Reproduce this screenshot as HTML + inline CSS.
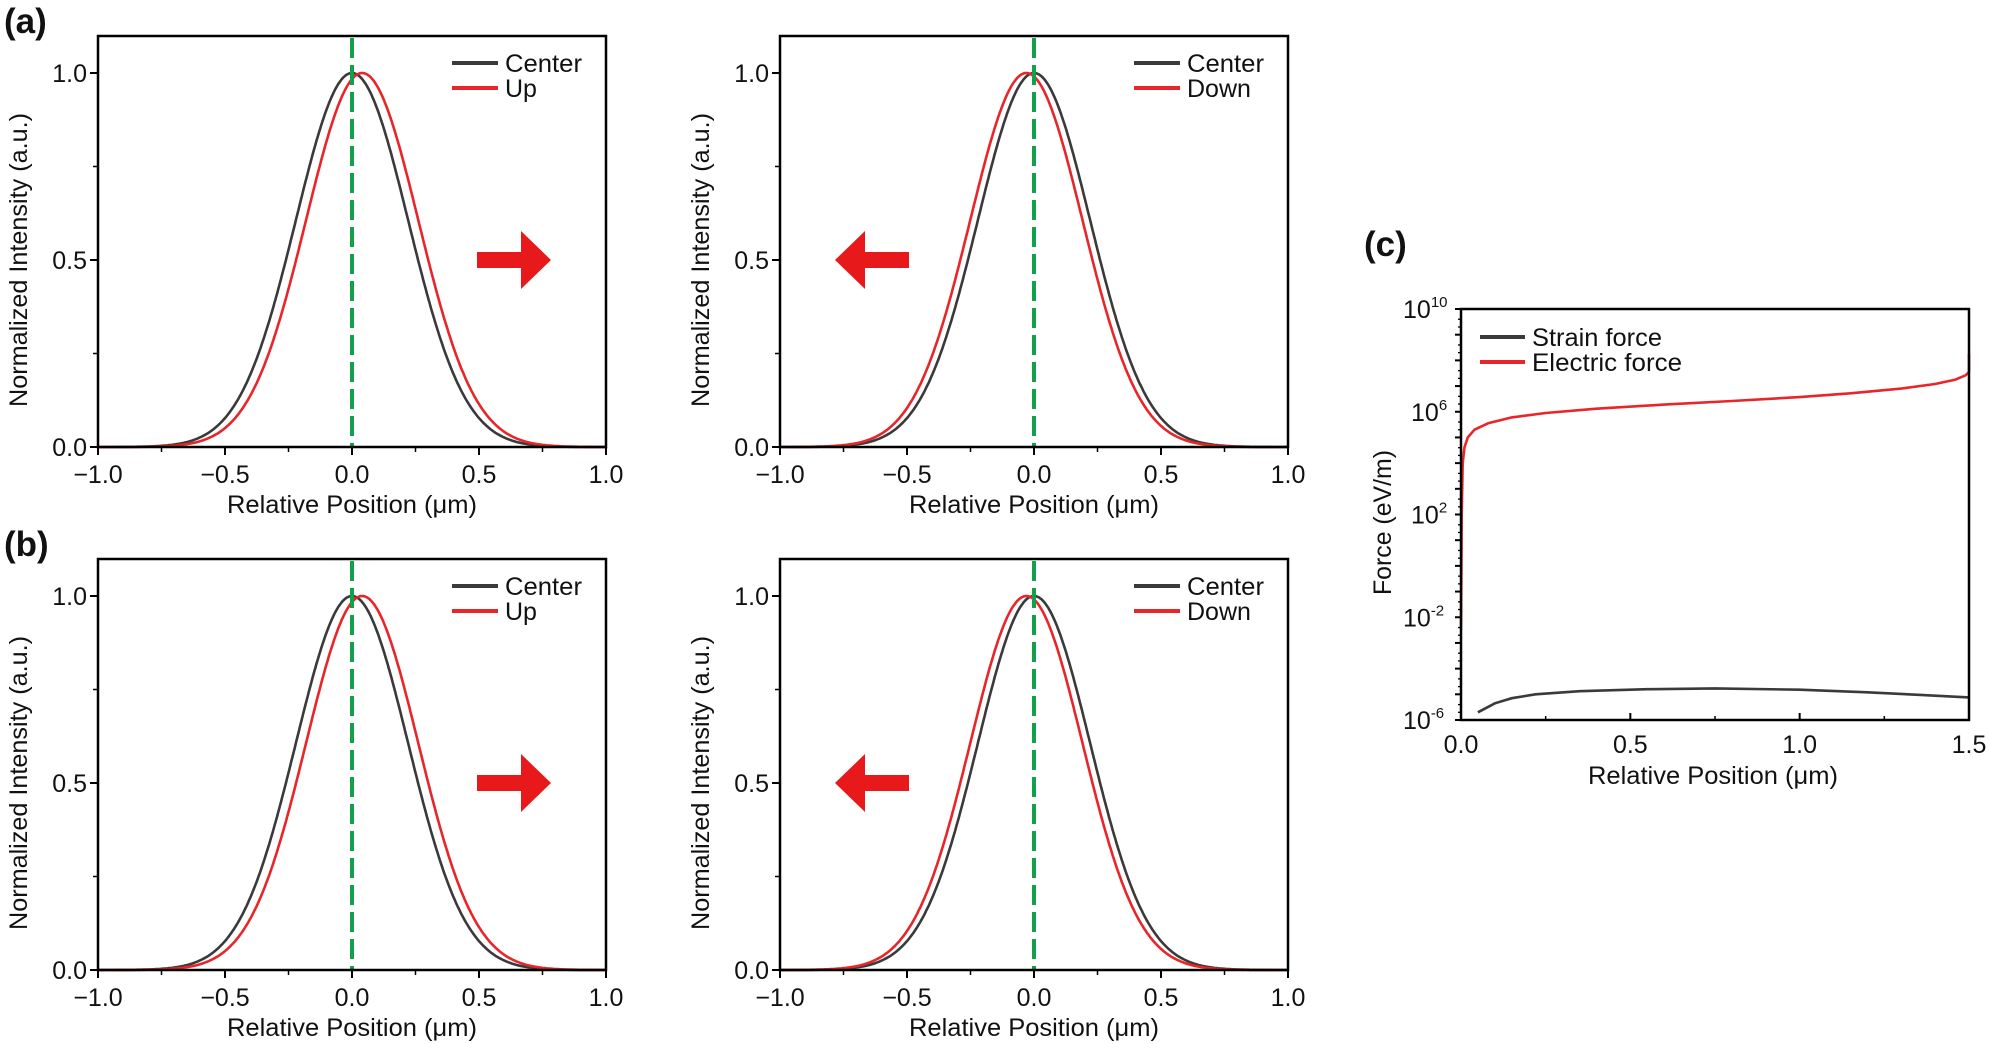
<!DOCTYPE html>
<html><head><meta charset="utf-8"><style>
html,body{margin:0;padding:0;background:#fff}
svg{display:block}
text{font-family:"Liberation Sans",Arial,sans-serif;fill:#111}
</style></head><body>
<svg id="s" width="1989" height="1044" xmlns="http://www.w3.org/2000/svg">
<text x="4" y="33" font-size="35" font-weight="bold">(a)</text>
<text x="4" y="556" font-size="35" font-weight="bold">(b)</text>
<text x="1364" y="256" font-size="35" font-weight="bold">(c)</text>
</svg>
<script>
var s=document.getElementById('s');var NS='http://www.w3.org/2000/svg';
function el(t,a,txt){var e=document.createElementNS(NS,t);for(var k in a)e.setAttribute(k,a[k]);if(txt!==undefined)e.textContent=txt;s.appendChild(e);return e;}
function gpanel(L,dy,shift,lab,arrowRight){
 var R=L+508,T=36+dy,Y0=447+dy,Y1=73+dy;
 var X=function(v){return L+(v+1)*254;},Yv=function(v){return Y0-(Y0-Y1)*v;};
 function curve(c,col){var d='';for(var i=0;i<=400;i++){var x=-1+i*0.005;var g=Math.exp(-Math.pow(x-c,2)/(2*0.221*0.221));d+=(i?'L':'M')+X(x).toFixed(1)+' '+Yv(g).toFixed(1);}el('path',{d:d,fill:'none',stroke:col,'stroke-width':2.6});}
 curve(0,'#3a3a3a');curve(shift,'#e8262a');
 el('line',{x1:X(0),y1:T+2,x2:X(0),y2:Y0,stroke:'#12a04a','stroke-width':4,'stroke-dasharray':'20 7'});
 el('rect',{x:L,y:T,width:508,height:Y0-T,fill:'none',stroke:'#000','stroke-width':2.5});
 [-1,-0.5,0,0.5,1].forEach(function(v){el('line',{x1:X(v),y1:Y0,x2:X(v),y2:Y0+8,stroke:'#000','stroke-width':2});el('text',{x:X(v),y:Y0+36,'font-size':25,'text-anchor':'middle'},(v<0?'\u2212':'')+Math.abs(v).toFixed(1));});
 [-0.75,-0.25,0.25,0.75].forEach(function(v){el('line',{x1:X(v),y1:Y0,x2:X(v),y2:Y0+5,stroke:'#000','stroke-width':1.5});});
 [0,0.5,1].forEach(function(v){el('line',{x1:L-8,y1:Yv(v),x2:L,y2:Yv(v),stroke:'#000','stroke-width':2});el('text',{x:L-11,y:Yv(v)+9,'font-size':25,'text-anchor':'end'},v.toFixed(1));});
 [0.25,0.75].forEach(function(v){el('line',{x1:L-5,y1:Yv(v),x2:L,y2:Yv(v),stroke:'#000','stroke-width':1.5});});
 el('text',{x:X(0)-125,y:Y0+66,'font-size':25,textLength:250,lengthAdjust:'spacingAndGlyphs'},'Relative Position (\u03bcm)');
 el('text',{x:-147,y:0,'font-size':25,textLength:294,lengthAdjust:'spacingAndGlyphs',transform:'translate('+(L-71)+','+(Y0-187)+') rotate(-90)'},'Normalized Intensity (a.u.)');
 var lx=L+354;
 el('line',{x1:lx,y1:T+27,x2:lx+46,y2:T+27,stroke:'#3a3a3a','stroke-width':4});
 el('line',{x1:lx,y1:T+52,x2:lx+46,y2:T+52,stroke:'#e8262a','stroke-width':4});
 el('text',{x:lx+53,y:T+36,'font-size':25,textLength:77,lengthAdjust:'spacingAndGlyphs'},'Center');
 el('text',{x:lx+53,y:T+61,'font-size':25},lab);
 var ay=260+dy;
 if(arrowRight){el('polygon',{points:[[477,ay-8],[521,ay-8],[521,ay-29],[551,ay],[521,ay+29],[521,ay+8],[477,ay+8]].join(' '),fill:'#e8191b'});}
 else{el('polygon',{points:[[909,ay-8],[865,ay-8],[865,ay-29],[835,ay],[865,ay+29],[865,ay+8],[909,ay+8]].join(' '),fill:'#e8191b'});}
}
gpanel(98,0,0.04,'Up',true);
gpanel(780,0,-0.03,'Down',false);
gpanel(98,523,0.04,'Up',true);
gpanel(780,523,-0.03,'Down',false);
(function(){
 var L=1461,R=1969,T=309,B=720,dec=(B-T)/16;
 var X=function(v){return L+v/1.5*(R-L);},Y=function(p){return T+(10-p)*dec;};
 var ep=[[0,-2.5],[0.002,2],[0.005,4.0],[0.01,4.6],[0.02,5.0],[0.04,5.3],[0.08,5.55],[0.15,5.78],[0.25,5.95],[0.4,6.12],[0.6,6.28],[0.8,6.42],[1.0,6.57],[1.15,6.72],[1.3,6.9],[1.4,7.08],[1.46,7.25],[1.49,7.42],[1.5,7.55],[1.5,8.25]];
 el('path',{d:ep.map(function(p,i){return (i?'L':'M')+X(p[0]).toFixed(1)+' '+Y(p[1]).toFixed(1);}).join(''),fill:'none',stroke:'#e8262a','stroke-width':2.6,'stroke-linejoin':'round'});
 var sp=[[0.05,-5.7],[0.1,-5.35],[0.15,-5.15],[0.22,-5.0],[0.35,-4.88],[0.55,-4.8],[0.75,-4.77],[1.0,-4.82],[1.2,-4.92],[1.35,-5.02],[1.5,-5.12]];
 el('path',{d:sp.map(function(p,i){return (i?'L':'M')+X(p[0]).toFixed(1)+' '+Y(p[1]).toFixed(1);}).join(''),fill:'none',stroke:'#3a3a3a','stroke-width':2.6});
 el('rect',{x:L,y:T,width:R-L,height:B-T,fill:'none',stroke:'#000','stroke-width':2.5});
 for(var p=-6;p<=10;p++){el('line',{x1:L-6,y1:Y(p),x2:L,y2:Y(p),stroke:'#000','stroke-width':2});
  if(p<10)[0.3,0.6].forEach(function(f){el('line',{x1:L-3,y1:Y(p+f),x2:L,y2:Y(p+f),stroke:'#000','stroke-width':1.3});});}
 [10,6,2,-2,-6].forEach(function(p){var t=el('text',{x:L-14-String(p).length*8-28,y:Y(p)+9,'font-size':25},'');
   var a=document.createElementNS(NS,'tspan');a.textContent='10';t.appendChild(a);
   var b=document.createElementNS(NS,'tspan');b.textContent=String(p);b.setAttribute('dy','-11');b.setAttribute('font-size','15');t.appendChild(b);});
 [0,0.5,1.0,1.5].forEach(function(v){el('line',{x1:X(v),y1:B,x2:X(v),y2:B-7,stroke:'#000','stroke-width':2});el('text',{x:X(v),y:B+33,'font-size':25,'text-anchor':'middle'},v.toFixed(1));});
 [0.25,0.75,1.25].forEach(function(v){el('line',{x1:X(v),y1:B,x2:X(v),y2:B-4,stroke:'#000','stroke-width':1.5});});
 el('text',{x:1713-125,y:B+64,'font-size':25,textLength:250,lengthAdjust:'spacingAndGlyphs'},'Relative Position (\u03bcm)');
 el('text',{x:-72,y:0,'font-size':25,textLength:145,lengthAdjust:'spacingAndGlyphs',transform:'translate(1391,523) rotate(-90)'},'Force (eV/m)');
 el('line',{x1:1480,y1:337,x2:1525,y2:337,stroke:'#3a3a3a','stroke-width':4});
 el('line',{x1:1480,y1:362,x2:1525,y2:362,stroke:'#e8262a','stroke-width':4});
 el('text',{x:1532,y:346,'font-size':25,textLength:130,lengthAdjust:'spacingAndGlyphs'},'Strain force');
 el('text',{x:1532,y:371,'font-size':25,textLength:150,lengthAdjust:'spacingAndGlyphs'},'Electric force');
})();
</script>
</body></html>
